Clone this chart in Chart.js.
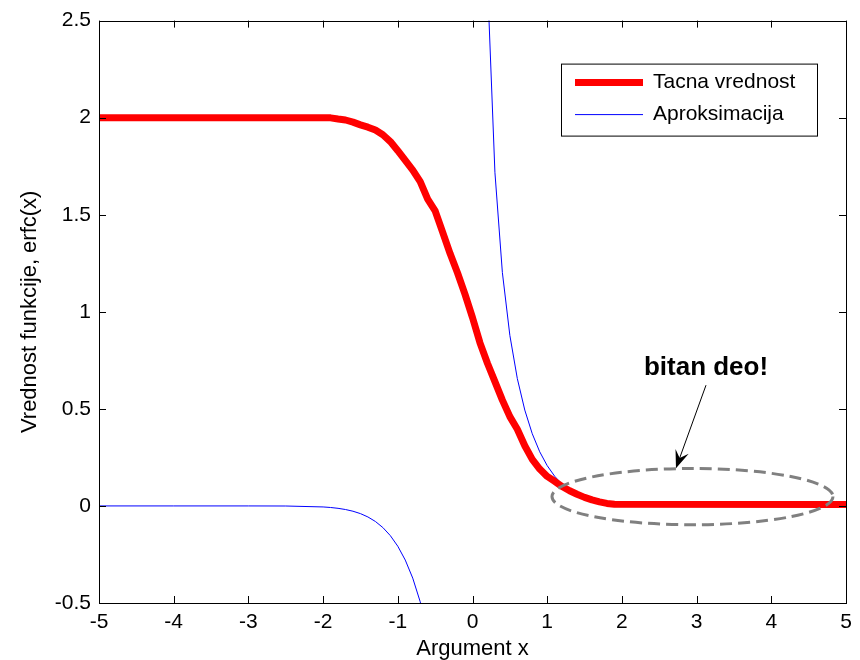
<!DOCTYPE html>
<html lang="sr">
<head>
    <meta charset="UTF-8">
    <title>erfc(x) - tacna vrednost i aproksimacija</title>
    <script src="https://cdn.jsdelivr.net/npm/chart.js"></script>
    <style>
        body {
            margin: 0;
            background-color: #ffffff;
        }

        #erfcChart {
            display: block;
        }
    </style>
</head>
<body>
    <canvas id="erfcChart" width="860" height="660"></canvas>

    <script>
        // vrednosti ocitane sa grafika
        var tacnaX = [-5, -2, -1.9, -1.8, -1.7, -1.6, -1.5, -1.4, -1.3, -1.2, -1.1, -1, -0.9, -0.8,
            -0.7, -0.6, -0.5, -0.4, -0.3, -0.2, -0.1, 0, 0.1, 0.2, 0.3, 0.4, 0.5, 0.6, 0.7, 0.8, 0.9,
            1, 1.1, 1.2, 1.3, 1.4, 1.5, 1.6, 1.7, 1.8, 1.9, 5];
        var tacnaY = [2, 2, 1.999, 1.993, 1.988, 1.977, 1.963, 1.951, 1.936, 1.912, 1.877, 1.83,
            1.78, 1.73, 1.67, 1.58, 1.52, 1.41, 1.3, 1.2, 1.09, 0.97, 0.84, 0.735, 0.64, 0.545, 0.46,
            0.395, 0.31, 0.24, 0.19, 0.152, 0.127, 0.1, 0.078, 0.06, 0.044, 0.031, 0.021, 0.013,
            0.009, 0.008];

        var aproksX = [-5, -4, -3, -2.5, -2, -1.9, -1.8, -1.7, -1.6, -1.5, -1.4, -1.3, -1.2, -1.1, -1,
            -0.9, -0.8, -0.7, -0.6, -0.5, -0.4, -0.3, -0.2, -0.1, 0, 0.1, 0.2, 0.3, 0.4, 0.5, 0.6, 0.7,
            0.8, 0.9, 1, 1.1, 1.2, 1.3, 1.4, 1.5, 1.6, 1.7, 1.8, 1.9, 2, 2.5, 3, 4, 5];
        var aproksY = [0, 0, 0, -0.0004, -0.0052, -0.008, -0.0123, -0.0185, -0.0273, -0.0396,
            -0.0568, -0.0801, -0.1114, -0.153, -0.2076, -0.2789, -0.3719, -0.4938, -0.656, -0.8788,
            -1.2019, -1.7188, -2.7104, -5.586, null, 5.586, 2.7104, 1.7188, 1.2019, 0.8788, 0.656,
            0.4938, 0.3719, 0.2789, 0.2076, 0.153, 0.1114, 0.0801, 0.0568, 0.0396, 0.0273, 0.0185,
            0.0123, 0.008, 0.0052, 0.0004, 0, 0, 0];

        var xTicks = [-5, -4, -3, -2, -1, 0, 1, 2, 3, 4, 5];
        var yTicks = [-0.5, 0, 0.5, 1, 1.5, 2, 2.5];

        var seriesNames = ['Tacna vrednost', 'Aproksimacija'];
        var annotationText = 'bitan deo!';

        var font = "'Liberation Sans', Arial, sans-serif";

        function toPoints(xs, ys) {
            return xs.map(function (x, i) {
                return { x: x, y: ys[i] };
            });
        }

        // okvir, crtice, legenda i oznaka "bitan deo!"
        var matlabLook = {
            id: 'matlabLook',
            afterDatasetsDraw: function (chart) {
                var ctx = chart.ctx;
                var a = chart.chartArea;
                var xs = chart.scales.x;
                var ys = chart.scales.y;

                ctx.save();

                // elipsa
                var cx = xs.getPixelForValue(2.945);
                var cy = ys.getPixelForValue(0.048);
                var rx = xs.getPixelForValue(2.945 + 1.881) - cx;
                var ry = cy - ys.getPixelForValue(0.048 + 0.145);
                ctx.strokeStyle = '#808080';
                ctx.lineWidth = 3;
                ctx.setLineDash([12, 6]);
                ctx.beginPath();
                ctx.ellipse(cx, cy, rx, ry, 0, 0, Math.PI * 2);
                ctx.stroke();
                ctx.setLineDash([]);

                // strelica
                var x0 = xs.getPixelForValue(3.126), y0 = ys.getPixelForValue(0.622);
                var x1 = xs.getPixelForValue(2.724), y1 = ys.getPixelForValue(0.194);
                var dx = x1 - x0, dy = y1 - y0;
                var len = Math.sqrt(dx * dx + dy * dy);
                var ux = dx / len, uy = dy / len;
                var headLen = 18, headW = 7;
                ctx.strokeStyle = '#000000';
                ctx.lineWidth = 1;
                ctx.beginPath();
                ctx.moveTo(x0, y0);
                ctx.lineTo(x1 - ux * headLen * 0.6, y1 - uy * headLen * 0.6);
                ctx.stroke();
                ctx.fillStyle = '#000000';
                ctx.beginPath();
                ctx.moveTo(x1, y1);
                ctx.lineTo(x1 - ux * headLen - uy * headW, y1 - uy * headLen + ux * headW);
                ctx.lineTo(x1 - ux * headLen * 0.6, y1 - uy * headLen * 0.6);
                ctx.lineTo(x1 - ux * headLen + uy * headW, y1 - uy * headLen - ux * headW);
                ctx.closePath();
                ctx.fill();

                // tekst
                ctx.font = 'bold 26px ' + font;
                ctx.textAlign = 'center';
                ctx.textBaseline = 'middle';
                ctx.fillText(annotationText, xs.getPixelForValue(3.126), ys.getPixelForValue(0.709));

                // okvir i unutrasnje crtice
                ctx.strokeStyle = '#000000';
                ctx.lineWidth = 1;
                ctx.strokeRect(Math.round(a.left) + 0.5, Math.round(a.top) + 0.5,
                    Math.round(a.right - a.left), Math.round(a.bottom - a.top));
                var tick = 7;
                ctx.beginPath();
                xTicks.forEach(function (v) {
                    var px = Math.round(xs.getPixelForValue(v)) + 0.5;
                    ctx.moveTo(px, a.bottom);
                    ctx.lineTo(px, a.bottom - tick);
                    ctx.moveTo(px, a.top);
                    ctx.lineTo(px, a.top + tick);
                });
                yTicks.forEach(function (v) {
                    var py = Math.round(ys.getPixelForValue(v)) + 0.5;
                    ctx.moveTo(a.left, py);
                    ctx.lineTo(a.left + tick, py);
                    ctx.moveTo(a.right, py);
                    ctx.lineTo(a.right - tick, py);
                });
                ctx.stroke();

                // legenda
                var lx = a.right - 285, ly = a.top + 43, lw = 256, lh = 72;
                ctx.fillStyle = '#ffffff';
                ctx.fillRect(lx, ly, lw, lh);
                ctx.strokeRect(lx + 0.5, ly + 0.5, lw, lh);
                var entries = [
                    { name: seriesNames[0], color: '#ff0000', width: 7, y: ly + 19 },
                    { name: seriesNames[1], color: '#0000ff', width: 1, y: ly + 51 }
                ];
                ctx.font = '21px ' + font;
                ctx.textAlign = 'left';
                entries.forEach(function (e) {
                    ctx.strokeStyle = e.color;
                    ctx.lineWidth = e.width;
                    ctx.beginPath();
                    ctx.moveTo(lx + 14, e.y);
                    ctx.lineTo(lx + 82, e.y);
                    ctx.stroke();
                    ctx.fillStyle = '#000000';
                    ctx.fillText(e.name, lx + 92, e.y);
                });

                ctx.restore();
            }
        };

        var ctx = document.getElementById('erfcChart').getContext('2d');

        var erfcChart = new Chart(ctx, {
            type: 'line',
            data: {
                datasets: [{
                    label: seriesNames[0],
                    data: toPoints(tacnaX, tacnaY),
                    borderColor: '#ff0000',
                    borderWidth: 7,
                    borderJoinStyle: 'round',
                    pointRadius: 0,
                    tension: 0,
                    clip: 0
                }, {
                    label: seriesNames[1],
                    data: toPoints(aproksX, aproksY),
                    borderColor: '#0000ff',
                    borderWidth: 1,
                    pointRadius: 0,
                    tension: 0,
                    spanGaps: false,
                    clip: 0
                }]
            },
            options: {
                responsive: false,
                animation: false,
                devicePixelRatio: 1,
                layout: {
                    padding: { left: 0, right: 14, top: 15, bottom: 0 }
                },
                plugins: {
                    legend: { display: false },
                    tooltip: { enabled: false }
                },
                scales: {
                    x: {
                        type: 'linear',
                        min: -5,
                        max: 5,
                        grid: { display: false, drawTicks: false },
                        border: { display: false },
                        afterBuildTicks: function (scale) {
                            scale.ticks = xTicks.map(function (v) { return { value: v }; });
                        },
                        afterFit: function (scale) {
                            scale.height = 57;
                        },
                        ticks: {
                            color: '#000000',
                            padding: 7,
                            maxRotation: 0,
                            font: { family: font, size: 21 },
                            callback: function (v) { return String(v); }
                        },
                        title: {
                            display: true,
                            text: 'Argument x',
                            color: '#000000',
                            padding: 0,
                            font: { family: font, size: 22, lineHeight: 1 }
                        }
                    },
                    y: {
                        type: 'linear',
                        min: -0.5,
                        max: 2.5,
                        grid: { display: false, drawTicks: false },
                        border: { display: false },
                        afterBuildTicks: function (scale) {
                            scale.ticks = yTicks.map(function (v) { return { value: v }; });
                        },
                        afterFit: function (scale) {
                            scale.width = 99;
                        },
                        ticks: {
                            color: '#000000',
                            padding: 8,
                            font: { family: font, size: 21 },
                            callback: function (v) { return String(v); }
                        },
                        title: {
                            display: true,
                            text: 'Vrednost funkcije, erfc(x)',
                            color: '#000000',
                            padding: { top: 19, bottom: 0 },
                            font: { family: font, size: 22, lineHeight: 1 }
                        }
                    }
                }
            },
            plugins: [matlabLook]
        });
    </script>
</body>
</html>
